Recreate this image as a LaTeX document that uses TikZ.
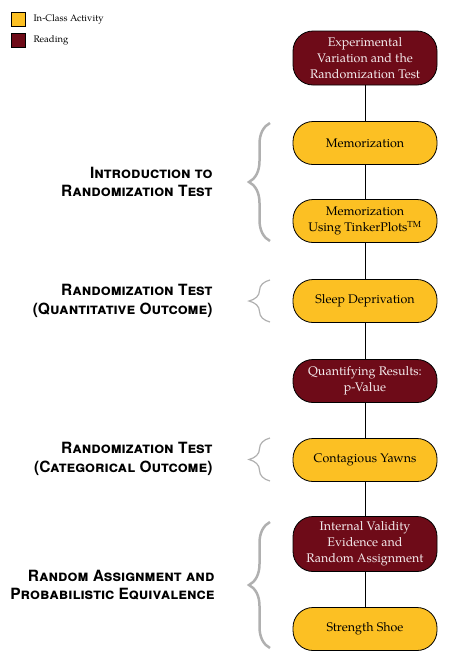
\documentclass[tikz,border=0pt]{standalone}
\usepackage{fontspec}
\setmainfont{TeX Gyre Pagella}
\newfontfamily\topicfont{TeX Gyre Heros}
\usetikzlibrary{decorations.pathreplacing}
\definecolor{gold}{RGB}{252,192,35}
\definecolor{maroon}{RGB}{110,11,24}
\definecolor{bracegray}{RGB}{176,176,176}
\tikzset{
  box/.style={draw=black,line width=0.8pt,rounded corners=20pt,minimum width=144pt,
    minimum height=43pt,align=center,font=\fontsize{12.5}{16}\selectfont,inner sep=2pt},
  act/.style={box,fill=gold,text=black},
  read/.style={box,fill=maroon,text=white!92!maroon},
  key/.style={draw=black,line width=0.8pt,minimum size=14pt,inner sep=0pt},
  topic/.style={anchor=east,align=right,font=\topicfont\bfseries\scshape\fontsize{15.5}{18.5}\selectfont},
  curly/.style={draw=bracegray,line width=#1,decorate,decoration={brace,amplitude=21pt}}
}
\begin{document}
\begin{tikzpicture}[x=1pt,y=-1pt]
\useasboundingbox (0,0) rectangle (448,662);
% legend
\node[key,fill=gold] (kact) at (18,19) {};
\node[key,fill=maroon] (kread) at (18,40) {};
\node[anchor=west,font=\fontsize{9.5}{11}\selectfont] at (30,19) {In-Class Activity};
\node[anchor=west,font=\fontsize{9.5}{11}\selectfont] at (30,40) {Reading};
% timeline
\node[read,minimum height=54pt] (n1) at (365,58) {Experimental\\Variation and the\\Randomization Test};
\node[act] (n2) at (365,143) {Memorization};
\node[act] (n3) at (365,221) {Memorization\\Using TinkerPlots\textsuperscript{TM}};
\node[act] (n4) at (365,301) {Sleep Deprivation};
\node[read] (n5) at (365,381) {Quantifying Results:\\p-Value};
\node[act] (n6) at (365,460) {Contagious Yawns};
\node[read,minimum height=55pt] (n7) at (365,544) {Internal Validity\\Evidence and\\Random Assignment};
\node[act] (n8) at (365,629) {Strength Shoe};
\foreach \a/\b in {n1/n2,n2/n3,n3/n4,n4/n5,n5/n6,n6/n7,n7/n8}
  \draw[line width=0.8pt] (\a) -- (\b);
% topics
\draw[curly=2.5pt] (270,241) -- (270,123);
\draw[curly=1.2pt] (270,322) -- (270,280);
\draw[curly=1.2pt] (270,481) -- (270,438);
\draw[curly=2.5pt] (270,648) -- (270,522);
\node[topic] (t1) at (216,182) {Introduction to\\Randomization Test};
\node[topic] (t2) at (216,301) {Randomization Test\\(Quantitative Outcome)};
\node[topic] (t3) at (216,459) {Randomization Test\\(Categorical Outcome)};
\node[topic] (t4) at (218,585) {Random Assignment and\\Probabilistic Equivalence};
\end{tikzpicture}
\end{document}
